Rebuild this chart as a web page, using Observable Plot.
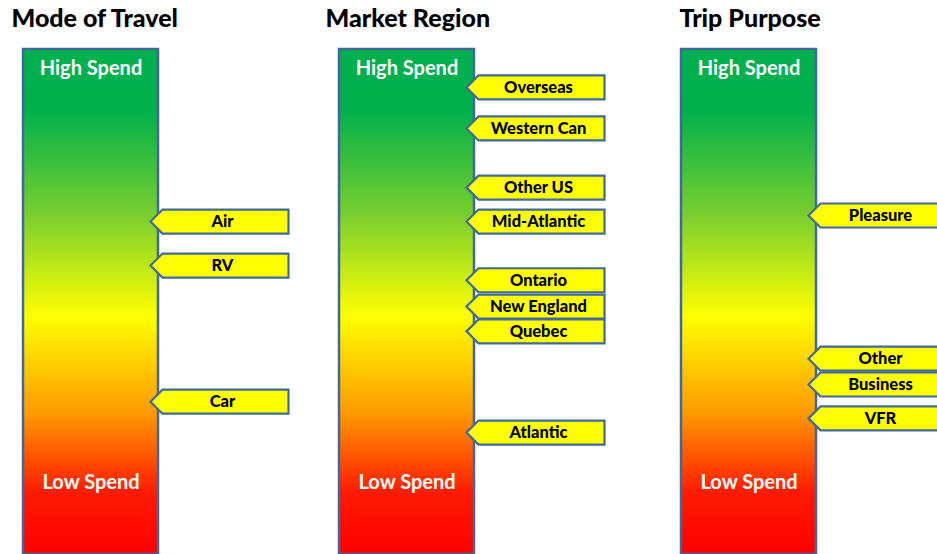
<!DOCTYPE html>
<html>
<head>
<meta charset="utf-8">
<script src="https://cdn.jsdelivr.net/npm/d3@7"></script>
<script src="https://cdn.jsdelivr.net/npm/@observablehq/plot@0.6"></script>
<style>
  html, body { margin: 0; padding: 0; background: #fff; }
  #chart svg { display: block; }
</style>
</head>
<body>
<div id="chart"></div>
<script>
// ---- Data ----
const panels = ["Mode of Travel", "Market Region", "Trip Purpose"];

const modeLabels = ["Air", "RV", "Car"];
const modeSpend = [65.8, 57.1, 30.2];

const marketLabels = ["Overseas", "Western Can", "Other US", "Mid-Atlantic", "Ontario", "New England", "Quebec", "Atlantic"];
const marketSpend = [92.3, 84.2, 72.5, 65.8, 54.2, 49.0, 44.1, 24.1];

const purposeLabels = ["Pleasure", "Other", "Business", "VFR"];
const purposeSpend = [67.0, 38.7, 33.6, 26.9];

const scaleEnds = ["High Spend", "Low Spend"];
const scaleEndValues = [96.0, 14.2];

// ---- Layout (styles) ----
const W = 937, H = 554;
const panelLeft = {"Mode of Travel": 23, "Market Region": 339, "Trip Purpose": 681};
const titleLeft = {"Mode of Travel": 11, "Market Region": 325, "Trip Purpose": 679};
const barW = 135;
const tipGap = -8;      // arrow tip relative to bar right edge
const arrowW = 138, arrowH = 24, notch = 12;
const outline = "#41689B";

const series = [
  [panels[0], modeLabels, modeSpend],
  [panels[1], marketLabels, marketSpend],
  [panels[2], purposeLabels, purposeSpend]
];
const labels = series.flatMap(([p, names, vals]) => names.map((n, i) => ({panel: p, name: n, spend: vals[i]})));
const bars = panels.map(p => ({panel: p}));
const ends = panels.flatMap(p => scaleEnds.map((t, i) => ({panel: p, text: t, spend: scaleEndValues[i]})));

const barCenter = d => panelLeft[d.panel] + barW / 2;
const arrowCenter = d => panelLeft[d.panel] + barW + tipGap + arrowW / 2;

// custom arrow symbol (pointing left), centered on (x,y)
const arrowSymbol = {
  draw(ctx) {
    const hw = arrowW / 2, hh = arrowH / 2;
    ctx.moveTo(-hw, 0);
    ctx.lineTo(-hw + notch, -hh);
    ctx.lineTo(hw, -hh);
    ctx.lineTo(hw, hh);
    ctx.lineTo(-hw + notch, hh);
    ctx.closePath();
  }
};

const defs = () => {
  const ns = "http://www.w3.org/2000/svg";
  const d = document.createElementNS(ns, "defs");
  d.innerHTML = `<linearGradient id="spendGrad" x1="0" y1="0" x2="0" y2="1">
    <stop offset="0" stop-color="#00B050"/>
    <stop offset="0.12" stop-color="#00B04C"/>
    <stop offset="0.33" stop-color="#7ACF2E"/>
    <stop offset="0.53" stop-color="#FFFF00"/>
    <stop offset="0.72" stop-color="#FF9A00"/>
    <stop offset="0.88" stop-color="#FF1A00"/>
    <stop offset="1" stop-color="#FF0000"/>
  </linearGradient>`;
  return d;
};

const font = "Lato, Calibri, Carlito, sans-serif";

const chart = Plot.plot({
  width: W,
  height: H,
  marginTop: 48,
  marginBottom: 0,
  marginLeft: 0,
  marginRight: 0,
  style: {fontFamily: font, background: "#fff"},
  x: {domain: [0, W], range: [0, W], axis: null},
  y: {domain: [0, 100], axis: null},
  marks: [
    defs,
    Plot.rect(bars, {
      x1: d => panelLeft[d.panel],
      x2: d => panelLeft[d.panel] + barW,
      y1: 0, y2: 100,
      fill: "url(#spendGrad)",
      stroke: outline,
      strokeWidth: 2.5,
      insetTop: 1
    }),
    Plot.text(ends, {
      x: barCenter, y: "spend", text: "text",
      fill: "white", fontWeight: "bold", fontSize: 20
    }),
    Plot.dot(labels, {
      x: arrowCenter, y: "spend",
      symbol: arrowSymbol, r: 10,
      fill: "#FFFF00", stroke: outline, strokeWidth: 2.2
    }),
    Plot.text(labels, {
      x: d => arrowCenter(d) + 3, y: "spend", text: "name",
      fill: "black", fontWeight: 900, fontSize: 16.5
    }),
    Plot.text(panels, {
      x: d => titleLeft[d], text: d => d,
      frameAnchor: "top", dy: -39, textAnchor: "start",
      fill: "black", fontWeight: 900, fontSize: 25
    })
  ]
});

document.getElementById("chart").appendChild(chart);
</script>
</body>
</html>
